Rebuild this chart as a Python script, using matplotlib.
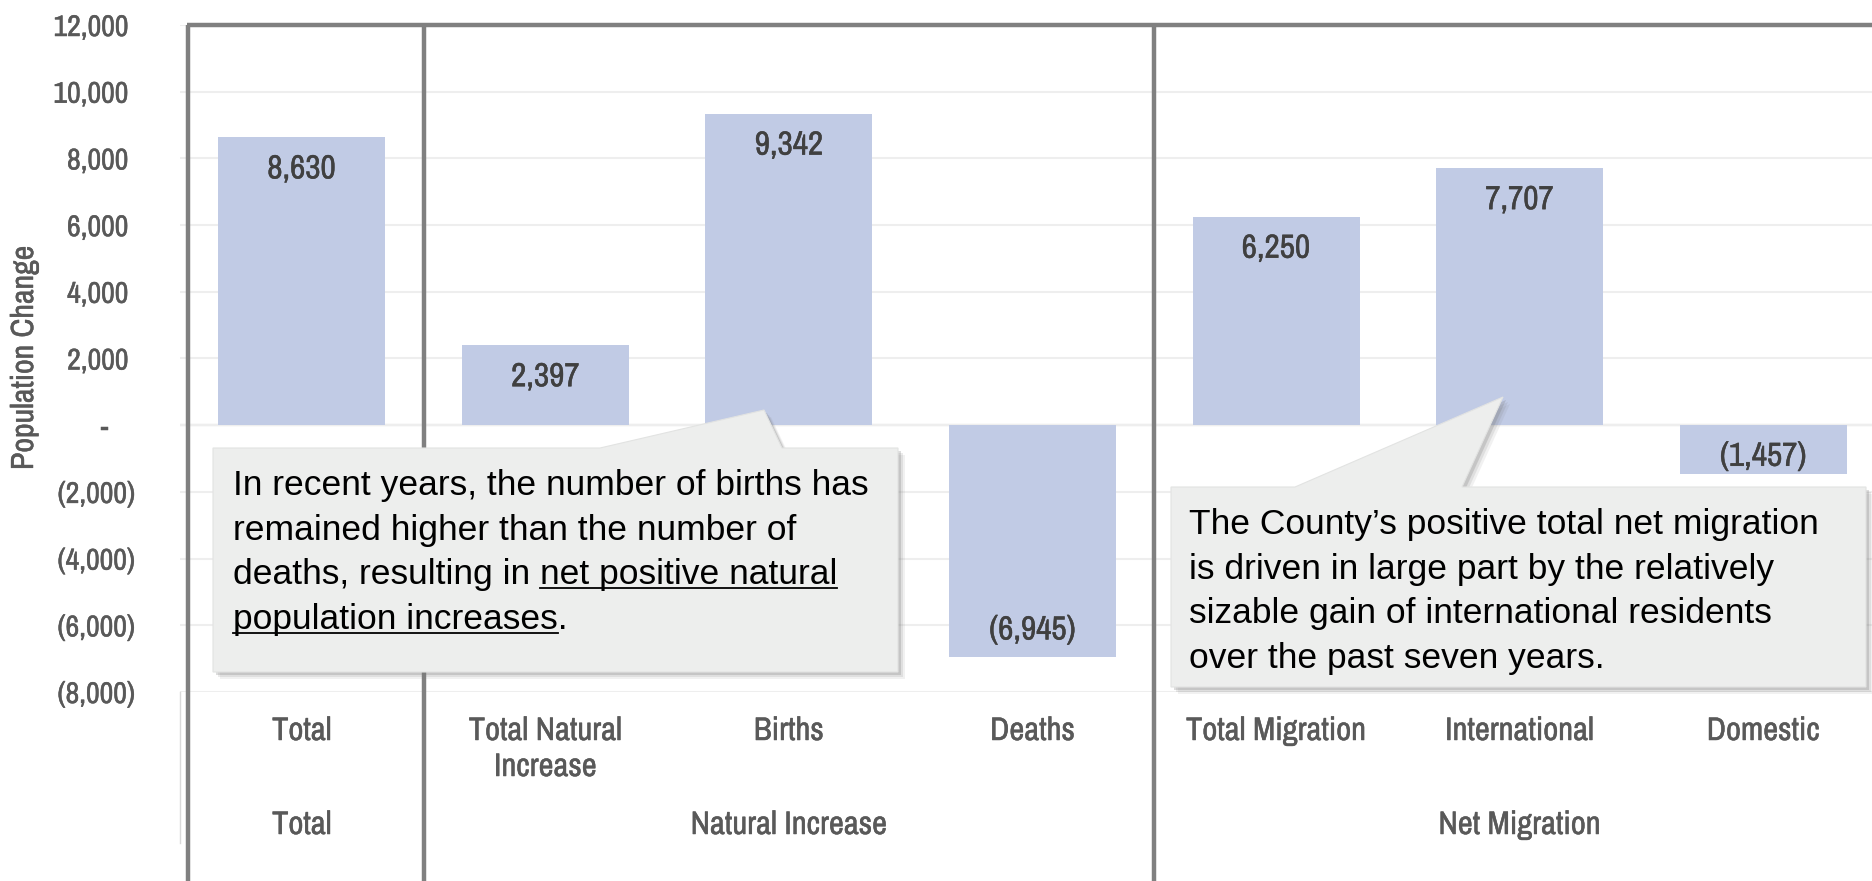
import matplotlib
matplotlib.use("Agg")
import matplotlib.pyplot as plt
import matplotlib.transforms as mtransforms
import matplotlib.patheffects as pe
from matplotlib.patches import Polygon
from matplotlib.ticker import FuncFormatter

# data
categories = ['Total', 'Total Natural\nIncrease', 'Births', 'Deaths',
              'Total Migration', 'International', 'Domestic']
values = [8630, 2397, 9342, -6945, 6250, 7707, -1457]
groups = ['Total', 'Natural Increase', 'Net Migration']
group_centers = [0, 2, 5]
y_ticks = list(range(-8000, 12001, 2000))

note_births = ["In recent years, the number of births has",
               "remained higher than the number of",
               "deaths, resulting in net positive natural",
               "population increases."]
note_migration = ["The County\u2019s positive total net migration",
                  "is driven in large part by the relatively",
                  "sizable gain of international residents",
                  "over the past seven years."]

W, H, DPI = 1872, 881, 100
BAR = '#c1cbe5'
GRID = '#eeeeee'
AXIS_TXT = '#595959'
LABEL_TXT = '#404040'
LINE = '#808080'
NARROW = ['Archivo Narrow', 'PT Sans Narrow', 'Roboto Condensed', 'Liberation Sans Narrow', 'DejaVu Sans']
SANS = ['Liberation Sans', 'DejaVu Sans']
NOTE_SIZE = 25.5


def fx(px):
    return px / W


def fy(py):
    return 1 - py / H


def heavy(color):
    # thicken the narrow font a little, it is lighter than the original
    return [pe.withStroke(linewidth=0.35, foreground=color)]


def ytick_fmt(v, pos):
    if v == 0:
        return '-    '
    if v < 0:
        return f'({abs(v):,.0f})'
    return f'{v:,.0f} '


def callout(fig, box, base, tip, lines, text_x, baseline0, step, underline=None):
    """Draw a speech-bubble note in figure pixel coords."""
    x0, y0, x1, y1 = box
    pts = [(x0, y0), (base[0], y0), tip, (base[1], y0), (x1, y0), (x1, y1), (x0, y1)]
    # soft shadow
    for k, a in [(7, 0.10), (5, 0.15), (3, 0.25)]:
        sh = [(fx(p[0] + k), fy(p[1] + k)) for p in pts]
        fig.add_artist(Polygon(sh, closed=True, facecolor='#7a7a7a', edgecolor='none',
                               alpha=a, transform=fig.transFigure, zorder=5))
    fig.add_artist(Polygon([(fx(p[0]), fy(p[1])) for p in pts], closed=True,
                           facecolor='#edeeed', edgecolor='#e2e3e2', lw=0.8,
                           transform=fig.transFigure, zorder=6))
    texts = []
    for i, s in enumerate(lines):
        t = fig.text(fx(text_x), fy(baseline0 + i * step), s, ha='left', va='baseline',
                     fontsize=NOTE_SIZE, family=SANS, color='black', zorder=7)
        texts.append(t)
    if underline:
        r = fig.canvas.get_renderer()
        for line_idx, sub, at_end in underline:
            bb = texts[line_idx].get_window_extent(r)
            tmp = fig.text(0, 0, sub, fontsize=NOTE_SIZE, family=SANS)
            w = tmp.get_window_extent(r).width
            tmp.remove()
            if at_end:
                xa, xb = bb.x1 - w, bb.x1
            else:
                xa, xb = bb.x0, bb.x0 + w
            yb = H - (baseline0 + line_idx * step) - 4
            fig.add_artist(plt.Line2D([xa / W, xb / W], [yb / H, yb / H], color='black',
                                      lw=1.3, transform=fig.transFigure, zorder=7))


fig = plt.figure(figsize=(W / DPI, H / DPI), dpi=DPI)
fig.patch.set_facecolor('white')
ax = fig.add_axes([fx(180), fy(692), (1885 - 180) / W, (692 - 25) / H])

x = list(range(len(values)))
ax.bar(x, values, width=0.686, color=BAR, zorder=2)
ax.set_xlim(-0.5, len(values) - 0.5)
ax.set_ylim(-8000, 12000)
ax.set_yticks(y_ticks)
ax.yaxis.set_major_formatter(FuncFormatter(ytick_fmt))
ax.set_xticks([])
ax.grid(axis='y', color=GRID, lw=1.5, zorder=0)
ax.axhline(0, color='#d9d9d9', lw=1.6, zorder=1)
ax.tick_params(axis='y', length=0, pad=32, labelsize=21.5, labelcolor=AXIS_TXT)
for lab in ax.get_yticklabels():
    lab.set_family(NARROW)
    lab.set_path_effects(heavy(AXIS_TXT))
for sp in ax.spines.values():
    sp.set_visible(False)

# bar value labels, inside end
for xi, v in zip(x, values):
    txt = f'{v:,}' if v >= 0 else f'({abs(v):,})'
    if abs(v) < 3000 and v < 0:
        ax.text(xi, v * 0.65, txt, ha='center', va='center', fontsize=24,
                family=NARROW, color=LABEL_TXT, zorder=3, path_effects=heavy(LABEL_TXT))
    else:
        off = -23 if v > 0 else 19
        ax.annotate(txt, (xi, v), xytext=(0, off), textcoords='offset points',
                    ha='center', va='center', fontsize=24, family=NARROW,
                    color=LABEL_TXT, zorder=3, path_effects=heavy(LABEL_TXT))

# category labels (two levels)
tr = mtransforms.blended_transform_factory(ax.transData, fig.transFigure)
for xi, c in zip(x, categories):
    ax.text(xi, fy(716), c, transform=tr, ha='center', va='top', fontsize=23.5,
            family=NARROW, color=AXIS_TXT, linespacing=1.25, clip_on=False,
            path_effects=heavy(AXIS_TXT))
for gc, g in zip(group_centers, groups):
    ax.text(gc, fy(825), g, transform=tr, ha='center', va='center', fontsize=23.5,
            family=NARROW, color=AXIS_TXT, clip_on=False, path_effects=heavy(AXIS_TXT))

fig.text(fx(24), fy(358), 'Population Change', rotation=90, ha='center', va='center',
         fontsize=23, family=NARROW, color=AXIS_TXT, path_effects=heavy(AXIS_TXT))

# thin axis edge under the plot, and heavy section frame
fig.add_artist(plt.Line2D([fx(180), fx(180)], [fy(692), fy(843)], color='#d9d9d9', lw=1,
                          transform=fig.transFigure))
for sx in [-0.467, 0.5, 3.5]:
    ax.plot([sx, sx], [fy(25), fy(881) - 0.01], transform=tr, color=LINE, lw=3.2,
            solid_capstyle='butt', clip_on=False, zorder=4)
ax.plot([-0.467 - 0.006, 6.6], [12000, 12000], color=LINE, lw=3.2, solid_capstyle='butt',
        clip_on=False, zorder=4)

callout(fig, (213, 448, 898, 672), (600, 782), (764, 410), note_births,
        233, 495, 44.7,
        underline=[(2, 'net positive natural', True), (3, 'population increases', False)])
callout(fig, (1171, 487, 1866, 687), (1295, 1462), (1503, 397), note_migration,
        1189, 534, 44.7)

fig.savefig('out.png', dpi=DPI, facecolor='white')
